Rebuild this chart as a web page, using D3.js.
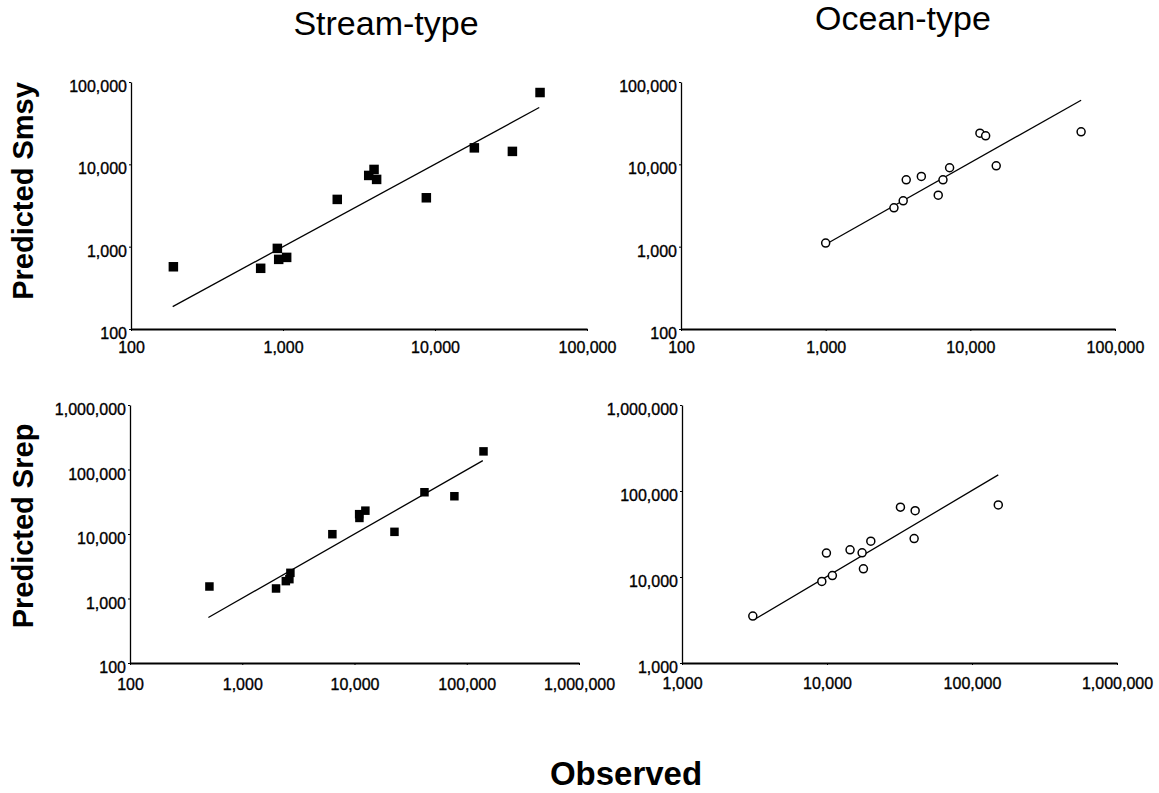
<!DOCTYPE html>
<html>
<head>
<meta charset="utf-8">
<script src="https://cdn.jsdelivr.net/npm/d3@7"></script>
<style>
  body { margin: 0; background: #fff; }
  svg { display: block; }
</style>
</head>
<body>
<svg id="chart" width="1159" height="793"></svg>
<script>
// Stream-type, Smsy
var streamSmsyObs  = [190, 713, 918, 937, 1057, 2275, 3664, 3972, 4130, 8770, 18150, 32300, 49100];
var streamSmsyPred = [570, 546, 953, 701, 741, 3750, 7330, 8670, 6560, 3925, 15850, 14360, 74500];
var streamSmsyFitObs  = [188, 48500];
var streamSmsyFitPred = [187, 49000];

// Ocean-type, Smsy
var oceanSmsyObs  = [1000, 2965, 3435, 3605, 4585, 6000, 6470, 7190, 11650, 12760, 15100, 58300];
var oceanSmsyPred = [1107, 2965, 3605, 6490, 7130, 4225, 6490, 9085, 23900, 22200, 9600, 24800];
var oceanSmsyFitObs  = [1010, 58300];
var oceanSmsyFitPred = [1077, 60100];

// Stream-type, Srep
var streamSrepObs  = [510, 2000, 2445, 2630, 2685, 6350, 11060, 11000, 12500, 22700, 42000, 77600, 141000];
var streamSrepPred = [1535, 1430, 1860, 1995, 2500, 9930, 17740, 20300, 23000, 10800, 44400, 38500, 191000];
var streamSrepFitObs  = [499, 139000];
var streamSrepFitPred = [508, 137000];

// Ocean-type, Srep
var oceanSrepObs  = [3078, 9210, 9910, 10890, 14420, 17460, 17830, 20050, 32100, 40550, 39900, 151800];
var oceanSrepPred = [3515, 8870, 18970, 10400, 20700, 19100, 12450, 26100, 64900, 59100, 28000, 68800];
var oceanSrepFitObs  = [3140, 151800];
var oceanSrepFitPred = [3185, 153800];

// axis ticks
var ticks100to1e5  = [100, 1000, 10000, 100000];
var ticks100to1e6  = [100, 1000, 10000, 100000, 1000000];
var ticks1e3to1e6  = [1000, 10000, 100000, 1000000];

var svg = d3.select("#chart");
var fmt = d3.format(",");
var font = "Liberation Sans, Arial, sans-serif";

var panels = [
  {obs: streamSmsyObs, pred: streamSmsyPred, fitX: streamSmsyFitObs, fitY: streamSmsyFitPred,
   xd: [100, 100000], yd: [100, 100000], xr: [131, 587], yr: [329, 82],
   xt: ticks100to1e5, yt: ticks100to1e5, marker: "square", msize: 9.5, xlab: 24},
  {obs: oceanSmsyObs, pred: oceanSmsyPred, fitX: oceanSmsyFitObs, fitY: oceanSmsyFitPred,
   xd: [100, 100000], yd: [100, 100000], xr: [681, 1115], yr: [329, 82],
   xt: ticks100to1e5, yt: ticks100to1e5, marker: "circle", msize: 4, xlab: 24},
  {obs: streamSrepObs, pred: streamSrepPred, fitX: streamSrepFitObs, fitY: streamSrepFitPred,
   xd: [100, 1000000], yd: [100, 1000000], xr: [130, 579], yr: [663, 405],
   xt: ticks100to1e6, yt: ticks100to1e6, marker: "square", msize: 8.5, xlab: 27},
  {obs: oceanSrepObs, pred: oceanSrepPred, fitX: oceanSrepFitObs, fitY: oceanSrepFitPred,
   xd: [1000, 1000000], yd: [1000, 1000000], xr: [682, 1117], yr: [663, 405],
   xt: ticks1e3to1e6, yt: ticks1e3to1e6, marker: "circle", msize: 4, xlab: 26}
];

panels.forEach(function(p){
    var x = d3.scaleLog().domain(p.xd).range(p.xr);
    var y = d3.scaleLog().domain(p.yd).range(p.yr);
    var g = svg.append("g");

//Axes
    var xAxis = g.append("g")
        .attr("transform", "translate(0," + p.yr[0] + ")")
        .call(d3.axisBottom(x).tickValues(p.xt).tickFormat(fmt).tickSizeInner(2).tickSizeOuter(0));
    xAxis.select(".domain").attr("stroke", "#000").attr("stroke-width", 2);
    xAxis.selectAll(".tick line").attr("stroke", "#000");
    xAxis.selectAll(".tick text")
        .attr("y", p.xlab).attr("dy", 0)
        .attr("font-size", 16).attr("font-family", font).attr("fill", "#000")
        .attr("stroke", "#000").attr("stroke-width", 0.35);

    var yAxis = g.append("g")
        .attr("transform", "translate(" + p.xr[0] + ",0)")
        .call(d3.axisLeft(y).tickValues(p.yt).tickFormat(fmt).tickSizeInner(2).tickSizeOuter(0));
    yAxis.select(".domain").attr("stroke", "#000").attr("stroke-width", 1.3);
    yAxis.selectAll(".tick line").attr("stroke", "#000");
    yAxis.selectAll(".tick text")
        .attr("x", -4).attr("dy", 9.5)
        .attr("font-size", 16).attr("font-family", font).attr("fill", "#000")
        .attr("stroke", "#000").attr("stroke-width", 0.35);

//Fit line
    g.append("line")
        .attr("x1", x(p.fitX[0])).attr("y1", y(p.fitY[0]))
        .attr("x2", x(p.fitX[1])).attr("y2", y(p.fitY[1]))
        .attr("stroke", "#000")
        .attr("stroke-width", 1.3);

//Points
    var pts = p.obs.map(function(d, i){ return [d, p.pred[i]]; });
    if(p.marker == "square"){
        g.selectAll("rect.pt").data(pts).enter()
            .append("rect")
            .attr("class", "pt")
            .attr("x", function(d){ return x(d[0]) - p.msize/2; })
            .attr("y", function(d){ return y(d[1]) - p.msize/2; })
            .attr("width", p.msize)
            .attr("height", p.msize)
            .attr("fill", "#000");
    }else{
        g.selectAll("circle.pt").data(pts).enter()
            .append("circle")
            .attr("class", "pt")
            .attr("cx", function(d){ return x(d[0]); })
            .attr("cy", function(d){ return y(d[1]); })
            .attr("r", p.msize)
            .attr("fill", "#fff")
            .attr("stroke", "#000")
            .attr("stroke-width", 1.5);
    }
});

// Titles
svg.append("text").text("Stream-type")
    .attr("x", 386).attr("y", 35)
    .attr("text-anchor", "middle")
    .attr("font-size", 34).attr("font-family", font);
svg.append("text").text("Ocean-type")
    .attr("x", 903).attr("y", 30)
    .attr("text-anchor", "middle")
    .attr("font-size", 34).attr("font-family", font);

svg.append("text").text("Predicted Smsy")
    .attr("transform", "translate(33,191) rotate(-90)")
    .attr("text-anchor", "middle")
    .attr("font-size", 29).attr("font-weight", "bold").attr("font-family", font);
svg.append("text").text("Predicted Srep")
    .attr("transform", "translate(33,526) rotate(-90)")
    .attr("text-anchor", "middle")
    .attr("font-size", 29).attr("font-weight", "bold").attr("font-family", font);

svg.append("text").text("Observed")
    .attr("x", 626).attr("y", 785)
    .attr("text-anchor", "middle")
    .attr("font-size", 33).attr("font-weight", "bold").attr("font-family", font);
</script>
</body>
</html>
